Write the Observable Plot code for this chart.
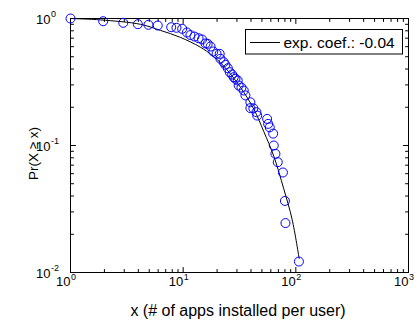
<!DOCTYPE html>
<html><head><meta charset="utf-8">
<script src="https://cdn.jsdelivr.net/npm/d3@7"></script>
<script src="https://cdn.jsdelivr.net/npm/@observablehq/plot@0.6"></script>
<style>html,body{margin:0;padding:0;background:#fff;} svg{display:block;}</style>
</head><body><div id="chart"></div>
<script>
// Empirical CCDF points (x = # of apps installed per user, Pr(X >= x))
const appsX = [1.0, 1.95, 2.94, 3.96, 4.92, 5.95, 7.83, 8.72, 9.8, 10.8, 11.6, 12.6, 13.7, 14.7, 15.8, 16.5, 17.5, 18.5, 19.8, 21.1, 21.4, 22.9, 23.7, 24.9, 25.9, 27.2, 28.1, 29.1, 30.5, 31.1, 32.9, 34.5, 35.7, 39.5, 39.5, 42.0, 44.7, 45.4, 55.6, 56.8, 58.7, 62.9, 63.7, 65.9, 69.1, 76.8, 80.0, 80.9, 106.5];
const prY   = [1.0, 0.952, 0.925, 0.902, 0.892, 0.881, 0.854, 0.845, 0.830, 0.776, 0.741, 0.721, 0.700, 0.684, 0.636, 0.632, 0.602, 0.550, 0.527, 0.527, 0.482, 0.453, 0.432, 0.406, 0.378, 0.362, 0.345, 0.335, 0.325, 0.297, 0.286, 0.271, 0.248, 0.219, 0.197, 0.196, 0.183, 0.172, 0.162, 0.148, 0.139, 0.124, 0.100, 0.086, 0.0739, 0.0613, 0.0366, 0.0245, 0.0122];

// Exponential fit curve
const fitX = [1, 1.85, 4.18, 6.29, 9.46, 14.2, 18.1, 22.9, 32.2, 42.3, 51.9, 63.7, 78.1, 92.7, 107];
const fitY = [1, 0.975, 0.9, 0.806, 0.71, 0.595, 0.512, 0.422, 0.288, 0.194, 0.129, 0.0825, 0.0456, 0.0262, 0.0129];

// Tick values and labels
const xMajor = [1, 10, 100, 1000];
const xExp = ["0", "1", "2", "3"];
const yMajor = [0.01, 0.1, 1];
const yExp = ["-2", "-1", "0"];
const xMinor = [2,3,4,5,6,7,8,9, 20,30,40,50,60,70,80,90, 200,300,400,500,600,700,800,900];
const yMinor = [0.02,0.03,0.04,0.05,0.06,0.07,0.08,0.09, 0.2,0.3,0.4,0.5,0.6,0.7,0.8,0.9];

const legendLabel = "exp. coef.: -0.04";
const xTitle = "x (# of apps installed per user)";
const yTitle = "Pr(X \u2265 x)";

const points = appsX.map((x, i) => ({x, p: prY[i]}));
const fit = fitX.map((x, i) => ({x, p: fitY[i]}));
const xLab = xMajor.map((v, i) => ({v, e: xExp[i]}));
const yLab = yMajor.map((v, i) => ({v, e: yExp[i]}));

const FONT = "'Liberation Sans', Arial, Helvetica, sans-serif";
const tickShape = {draw(ctx, l) { ctx.moveTo(0, 0); ctx.lineTo(0, -l); }};

function xTicks(values, len) {
  return [
    Plot.vector(values, {x: d => d, frameAnchor: "bottom", length: len, rotate: 0, anchor: "start", shape: tickShape, stroke: "#000", strokeWidth: 1}),
    Plot.vector(values, {x: d => d, frameAnchor: "top", length: len, rotate: 180, anchor: "start", shape: tickShape, stroke: "#000", strokeWidth: 1})
  ];
}
function yTicks(values, len) {
  return [
    Plot.vector(values, {y: d => d, frameAnchor: "left", length: len, rotate: 90, anchor: "start", shape: tickShape, stroke: "#000", strokeWidth: 1}),
    Plot.vector(values, {y: d => d, frameAnchor: "right", length: len, rotate: -90, anchor: "start", shape: tickShape, stroke: "#000", strokeWidth: 1})
  ];
}

const chart = Plot.plot({
  width: 419,
  height: 322,
  marginLeft: 70,
  marginRight: 11,
  marginTop: 18,
  marginBottom: 50,
  style: {fontFamily: FONT, background: "#fff", color: "#000", overflow: "visible"},
  x: {type: "log", domain: [1, 1000], axis: null},
  y: {type: "log", domain: [0.01, 1], axis: null},
  marks: [
    ...xTicks(xMinor, 3),
    ...xTicks(xMajor, 5),
    ...yTicks(yMinor, 3),
    ...yTicks(yMajor, 5),
    Plot.frame({stroke: "#000", strokeWidth: 1}),
    // tick labels: "10" with superscript exponent
    Plot.text(xLab, {x: "v", text: () => "10", frameAnchor: "bottom", lineAnchor: "bottom", textAnchor: "end", dy: 13.5, dx: 0, fontSize: 13, fill: "#000"}),
    Plot.text(xLab, {x: "v", text: "e", frameAnchor: "bottom", lineAnchor: "bottom", textAnchor: "start", dy: 7, dx: 0.5, fontSize: 9, fill: "#000"}),
    Plot.text(yLab, {y: "v", text: () => "10", frameAnchor: "left", lineAnchor: "bottom", textAnchor: "end", dy: 5, dx: -20, fontSize: 13, fill: "#000"}),
    Plot.text(yLab, {y: "v", text: "e", frameAnchor: "left", lineAnchor: "bottom", textAnchor: "start", dy: -1.5, dx: -19.5, fontSize: 9, fill: "#000"}),
    // axis titles
    Plot.text([xTitle], {text: d => d, frameAnchor: "bottom", lineAnchor: "bottom", textAnchor: "middle", dy: 43, dx: -1.5, fontSize: 16, fill: "#000"}),
    Plot.text([yTitle], {text: d => d, frameAnchor: "left", lineAnchor: "bottom", textAnchor: "middle", rotate: -90, dx: -33, dy: 8, fontSize: 13.5, fill: "#000"}),
    // data
    Plot.line(fit, {x: "x", y: "p", stroke: "#000", strokeWidth: 1, curve: "catmull-rom"}),
    Plot.dot(points, {x: "x", y: "p", r: 4.5, stroke: "#0000ff", fill: "none", strokeWidth: 1})
  ]
});

// Legend box (inside the axes, top-right)
const g = d3.select(chart).append("g").attr("font-family", FONT).attr("text-anchor", "start");
g.append("rect").attr("x", 245.5).attr("y", 29.5).attr("width", 157).attr("height", 24.5)
  .attr("fill", "#fff").attr("stroke", "#000").attr("stroke-width", 1);
g.append("line").attr("x1", 250).attr("x2", 280).attr("y1", 42.5).attr("y2", 42.5)
  .attr("stroke", "#000").attr("stroke-width", 1);
g.append("text").attr("x", 283.5).attr("y", 47.5).attr("font-size", 15.5).attr("text-anchor", "start")
  .attr("fill", "#000").text(legendLabel);

document.getElementById("chart").appendChild(chart);
</script>
</body></html>
